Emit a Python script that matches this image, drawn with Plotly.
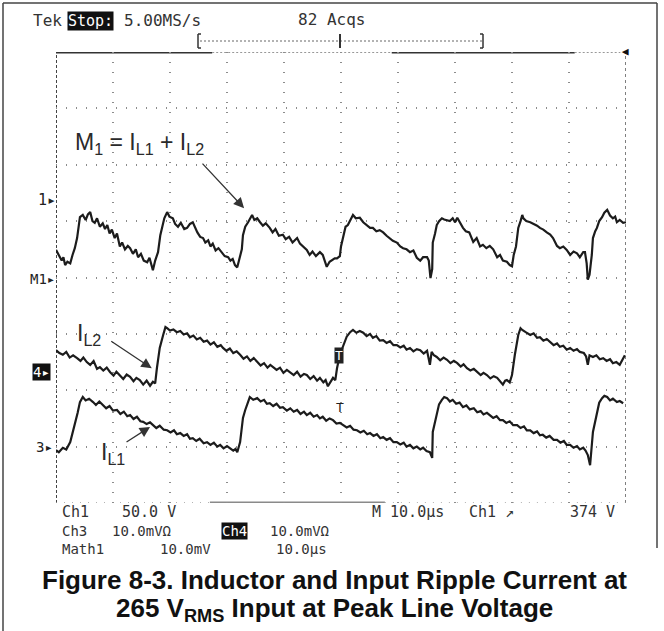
import plotly.graph_objects as go

# ---------------- data (time in µs, 10 µs/div; value in screen divisions) ----------------
m1_samples = [
    (0.0, 4.49), (0.5, 4.40), (1.0, 4.30), (1.3, 4.36), (1.6, 4.22), (2.0, 4.28), (2.5, 4.25), (2.9, 4.40),
    (3.3, 4.52), (3.7, 4.70), (4.2, 5.07), (4.7, 5.11), (5.2, 5.02), (5.6, 5.12), (6.0, 5.16), (6.4, 5.00),
    (6.8, 4.97), (7.2, 5.05), (7.7, 4.90), (8.2, 4.96), (8.6, 4.86), (9.0, 4.93), (9.4, 4.78), (9.8, 4.85),
    (10.3, 4.70), (10.7, 4.78), (11.2, 4.55), (11.6, 4.62), (12.1, 4.50), (12.6, 4.56), (13.0, 4.52),
    (13.5, 4.42), (14.0, 4.50), (14.4, 4.36), (14.9, 4.42), (15.4, 4.30), (16.0, 4.27), (16.4, 4.35),
    (16.8, 4.20), (17.0, 4.13), (17.4, 4.30), (17.9, 4.45), (18.3, 4.75), (18.6, 4.88), (19.0, 5.05),
    (19.5, 5.16), (19.9, 5.08), (20.5, 5.05), (20.9, 4.95), (21.4, 4.90), (21.9, 4.97), (22.5, 4.86),
    (23.0, 4.88), (23.5, 4.95), (24.0, 4.98), (24.8, 4.80), (25.3, 4.72), (25.8, 4.70), (26.2, 4.62),
    (26.7, 4.66), (27.1, 4.55), (27.5, 4.60), (28.0, 4.48), (28.5, 4.52), (29.1, 4.45), (29.6, 4.38),
    (30.2, 4.36), (30.6, 4.30), (31.0, 4.33), (31.4, 4.22), (31.8, 4.18), (32.2, 4.35), (32.6, 4.50),
    (32.8, 4.75), (33.2, 4.90), (33.7, 4.98), (34.0, 5.05), (34.4, 5.11), (34.8, 5.02), (35.3, 5.05),
    (35.8, 4.98), (36.3, 4.92), (36.8, 4.96), (37.5, 4.88), (38.0, 4.80), (38.5, 4.86), (39.1, 4.74),
    (39.8, 4.76), (40.3, 4.68), (40.9, 4.72), (41.5, 4.62), (42.3, 4.70), (42.8, 4.60), (43.4, 4.55),
    (44.0, 4.49), (44.5, 4.40), (45.0, 4.46), (45.6, 4.38), (46.3, 4.45), (46.8, 4.40), (47.2, 4.30),
    (47.5, 4.19), (48.0, 4.28), (48.4, 4.31), (48.9, 4.34), (49.3, 4.34), (49.8, 4.38), (50.0, 4.55),
    (50.4, 4.75), (50.8, 4.90), (51.2, 4.93), (51.6, 5.02), (52.1, 5.11), (52.6, 5.05), (53.3, 5.06),
    (53.9, 4.98), (54.6, 4.93), (55.1, 4.88), (55.6, 4.88), (56.2, 4.82), (56.8, 4.84), (57.4, 4.80),
    (58.0, 4.74), (58.5, 4.70), (59.1, 4.65), (59.8, 4.62), (60.4, 4.55), (60.9, 4.52), (61.5, 4.50),
    (62.1, 4.45), (62.7, 4.48), (63.3, 4.35), (63.9, 4.30), (64.4, 4.36), (65.1, 4.36), (65.4, 4.30),
    (65.7, 3.99), (66.0, 4.15), (66.1, 4.62), (66.5, 4.78), (66.8, 4.93), (67.2, 5.00), (67.7, 5.05),
    (68.1, 5.03), (68.6, 5.02), (69.1, 5.00), (69.6, 5.05), (70.0, 4.98), (70.4, 5.06), (71.0, 4.95),
    (71.4, 4.88), (71.9, 4.82), (72.5, 4.80), (73.2, 4.63), (73.8, 4.70), (74.4, 4.55), (74.9, 4.58),
    (75.5, 4.52), (76.1, 4.56), (76.7, 4.50), (77.4, 4.36), (77.9, 4.40), (78.4, 4.30), (79.1, 4.28),
    (79.6, 4.22), (80.0, 4.20), (80.3, 4.40), (80.7, 4.55), (81.1, 4.88), (81.5, 5.00), (81.8, 5.11),
    (82.0, 5.05), (82.5, 5.00), (83.2, 4.98), (83.8, 4.95), (84.4, 4.92), (84.9, 4.88), (85.5, 4.85),
    (86.1, 4.80), (86.7, 4.76), (87.2, 4.70), (87.9, 4.56), (88.4, 4.52), (89.0, 4.55), (89.6, 4.49),
    (90.2, 4.40), (90.8, 4.46), (91.4, 4.43), (91.9, 4.36), (92.5, 4.45), (92.8, 4.45), (93.1, 4.25),
    (93.3, 3.96), (93.6, 4.05), (94.0, 4.40), (94.2, 4.70), (94.6, 4.82), (94.9, 4.88), (95.3, 5.00),
    (95.8, 5.07), (96.2, 5.15), (96.7, 5.20), (97.2, 5.10), (97.7, 5.05), (98.1, 5.08), (98.4, 4.98),
    (98.9, 5.02), (99.5, 4.97), (100.0, 4.98),
]
il2_samples = [
    (0.0, 2.71), (0.6, 2.66), (1.2, 2.63), (1.8, 2.68), (2.4, 2.58), (3.0, 2.62), (3.7, 2.57), (4.3, 2.52),
    (4.8, 2.58), (5.4, 2.50), (6.0, 2.45), (6.6, 2.52), (7.2, 2.38), (7.7, 2.41), (8.3, 2.35), (8.9, 2.40),
    (9.5, 2.32), (10.1, 2.26), (10.6, 2.33), (11.2, 2.27), (11.8, 2.20), (12.4, 2.28), (13.0, 2.24),
    (13.6, 2.16), (14.1, 2.22), (14.7, 2.18), (15.3, 2.10), (15.9, 2.17), (16.5, 2.08), (17.0, 2.15),
    (17.4, 2.12), (17.7, 2.39), (18.2, 2.75), (18.8, 2.98), (19.2, 3.12), (19.5, 3.10), (20.0, 3.06),
    (20.6, 3.08), (21.2, 3.03), (21.8, 3.05), (22.4, 2.99), (23.0, 3.01), (23.5, 2.94), (24.1, 2.97),
    (24.7, 2.90), (25.3, 2.93), (25.9, 2.86), (26.5, 2.88), (27.1, 2.81), (27.7, 2.85), (28.3, 2.77),
    (28.9, 2.80), (29.3, 2.75), (29.9, 2.70), (30.5, 2.74), (31.1, 2.66), (31.7, 2.69), (32.3, 2.63),
    (32.9, 2.56), (33.5, 2.60), (34.1, 2.52), (34.7, 2.57), (35.3, 2.50), (35.9, 2.44), (36.5, 2.48),
    (37.1, 2.40), (37.6, 2.45), (38.1, 2.41), (38.7, 2.36), (39.3, 2.40), (39.9, 2.31), (40.5, 2.36),
    (41.1, 2.32), (41.7, 2.27), (42.3, 2.33), (42.9, 2.24), (43.5, 2.29), (44.0, 2.27), (44.6, 2.20),
    (45.2, 2.25), (45.8, 2.17), (46.3, 2.22), (46.9, 2.14), (47.3, 2.18), (47.7, 2.07), (48.1, 2.14),
    (48.6, 2.22), (49.0, 2.18), (49.3, 2.39), (49.8, 2.63), (50.4, 2.80), (51.0, 2.95), (51.6, 3.03),
    (52.1, 3.07), (52.7, 3.02), (53.3, 3.05), (53.9, 3.02), (54.5, 2.96), (55.1, 3.00), (55.6, 2.93),
    (56.2, 2.96), (56.8, 2.88), (57.4, 2.89), (58.0, 2.84), (58.6, 2.87), (59.2, 2.80), (59.8, 2.80),
    (60.4, 2.76), (61.0, 2.79), (61.5, 2.72), (62.1, 2.75), (62.7, 2.69), (63.3, 2.73), (63.9, 2.71),
    (64.5, 2.65), (65.1, 2.70), (65.6, 2.45), (65.9, 2.68), (66.3, 2.62), (66.8, 2.59), (67.4, 2.53),
    (68.0, 2.58), (68.6, 2.54), (69.2, 2.48), (69.8, 2.52), (70.4, 2.48), (71.0, 2.42), (71.5, 2.46),
    (72.1, 2.39), (72.7, 2.35), (73.3, 2.38), (73.9, 2.32), (74.5, 2.27), (75.0, 2.31), (75.6, 2.27),
    (76.2, 2.21), (76.8, 2.25), (77.4, 2.22), (77.9, 2.16), (78.4, 2.10), (78.8, 2.17), (79.1, 2.18),
    (79.6, 2.14), (80.0, 2.27), (80.5, 2.63), (81.1, 2.98), (81.5, 3.10), (81.8, 3.07), (82.4, 3.03),
    (83.2, 2.98), (83.8, 3.01), (84.4, 2.93), (84.9, 2.94), (85.5, 2.88), (86.1, 2.91), (86.7, 2.86),
    (87.3, 2.80), (87.9, 2.83), (88.4, 2.77), (89.0, 2.79), (89.6, 2.72), (90.2, 2.75), (90.8, 2.70),
    (91.4, 2.73), (91.9, 2.68), (92.6, 2.66), (93.0, 2.60), (93.3, 2.45), (93.6, 2.62), (94.2, 2.59),
    (94.8, 2.62), (95.4, 2.55), (96.0, 2.57), (96.6, 2.52), (97.2, 2.55), (97.7, 2.48), (98.3, 2.50),
    (98.9, 2.45), (99.5, 2.57), (99.8, 2.62),
]
il1_samples = [
    (0.0, 0.94), (0.5, 0.90), (1.2, 0.98), (1.8, 0.95), (2.5, 1.08), (3.3, 1.38), (3.8, 1.60), (4.2, 1.79),
    (4.7, 1.88), (5.2, 1.82), (5.8, 1.85), (6.5, 1.79), (7.0, 1.74), (7.6, 1.80), (8.2, 1.74), (8.8, 1.68),
    (9.4, 1.72), (10.0, 1.64), (10.7, 1.65), (11.3, 1.58), (11.9, 1.62), (12.5, 1.54), (13.0, 1.56),
    (13.6, 1.49), (14.2, 1.53), (14.8, 1.45), (15.3, 1.44), (15.9, 1.40), (16.5, 1.43), (17.0, 1.38),
    (17.6, 1.33), (18.2, 1.37), (18.9, 1.30), (19.5, 1.29), (20.1, 1.25), (20.7, 1.29), (21.2, 1.22),
    (21.8, 1.24), (22.4, 1.19), (23.0, 1.22), (23.5, 1.14), (24.0, 1.15), (24.6, 1.10), (25.2, 1.14),
    (25.9, 1.06), (26.5, 1.08), (27.1, 1.03), (27.7, 1.07), (28.3, 1.00), (28.8, 1.03), (29.4, 0.97),
    (30.0, 1.01), (30.5, 0.98), (31.1, 0.93), (31.5, 0.96), (31.8, 0.90), (32.3, 1.08), (32.8, 1.51),
    (33.2, 1.65), (33.5, 1.74), (34.0, 1.88), (34.6, 1.83), (35.3, 1.86), (35.9, 1.80), (36.5, 1.83),
    (37.0, 1.76), (37.5, 1.77), (38.1, 1.72), (38.7, 1.76), (39.3, 1.69), (39.8, 1.70), (40.5, 1.64),
    (41.1, 1.68), (41.7, 1.62), (42.3, 1.65), (42.9, 1.58), (43.5, 1.62), (44.0, 1.56), (44.6, 1.60),
    (45.2, 1.53), (45.8, 1.56), (46.3, 1.50), (46.8, 1.53), (47.4, 1.46), (48.0, 1.50), (48.6, 1.47),
    (49.2, 1.41), (49.8, 1.42), (50.4, 1.38), (51.0, 1.34), (51.6, 1.37), (52.2, 1.30), (52.8, 1.29),
    (53.4, 1.25), (54.0, 1.28), (54.6, 1.22), (55.1, 1.24), (55.7, 1.19), (56.3, 1.22), (56.9, 1.15),
    (57.4, 1.17), (58.0, 1.12), (58.6, 1.15), (59.2, 1.08), (59.8, 1.08), (60.4, 1.04), (61.0, 1.07),
    (61.5, 1.00), (62.1, 1.03), (62.7, 0.97), (63.3, 1.00), (63.9, 0.95), (64.4, 0.98), (65.0, 0.92),
    (65.6, 0.90), (66.0, 0.80), (66.1, 1.26), (66.8, 1.61), (67.2, 1.75), (67.7, 1.83), (68.1, 1.88),
    (68.6, 1.86), (69.1, 1.80), (69.6, 1.83), (70.2, 1.76), (70.8, 1.78), (71.4, 1.70), (72.0, 1.73),
    (72.6, 1.66), (73.3, 1.68), (73.9, 1.61), (74.5, 1.63), (75.0, 1.57), (75.6, 1.60), (76.1, 1.56),
    (76.7, 1.51), (77.3, 1.54), (77.9, 1.47), (78.4, 1.47), (79.0, 1.42), (79.6, 1.45), (80.2, 1.38),
    (80.9, 1.38), (81.5, 1.33), (82.1, 1.36), (82.6, 1.29), (83.2, 1.29), (83.8, 1.24), (84.4, 1.27),
    (84.9, 1.20), (85.4, 1.21), (86.0, 1.16), (86.6, 1.19), (87.3, 1.12), (87.9, 1.12), (88.5, 1.07),
    (89.1, 1.10), (89.6, 1.03), (90.2, 1.03), (90.8, 0.98), (91.4, 1.01), (91.9, 0.95), (92.5, 0.98),
    (92.9, 0.93), (93.3, 0.85), (93.7, 0.67), (94.2, 1.26), (94.9, 1.61), (95.3, 1.78), (95.8, 1.86),
    (96.2, 1.90), (96.7, 1.88), (97.2, 1.82), (97.7, 1.85), (98.4, 1.79), (98.9, 1.81), (99.5, 1.77),
]
m1_time = [p[0] for p in m1_samples]
m1_value = [p[1] for p in m1_samples]
il2_time = [p[0] for p in il2_samples]
il2_value = [p[1] for p in il2_samples]
il1_time = [p[0] for p in il1_samples]
il1_value = [p[1] for p in il1_samples]

time_divisions = list(range(0, 101, 10))   # 10.0 µs/div
volt_divisions = list(range(0, 9))

# text content
top_status = ["Tek", "Stop:", "5.00MS/s", "82 Acqs"]
row1 = ["Ch1", "50.0 V", "M 10.0µs", "Ch1 ↗", "374 V"]
row2 = ["Ch3", "10.0mVΩ", "Ch4", "10.0mVΩ"]
row3 = ["Math1", "10.0mV", "10.0µs"]
caption1 = "Figure 8-3. Inductor and Input Ripple Current at"
caption2 = "265 V<sub>RMS</sub> Input at Peak Line Voltage"

# ---------------- layout helpers ----------------
W, H = 664, 631
def px(x):
    return x / W
def py(y):
    return 1 - y / H

X0, X1, Y0, Y1 = 56, 626, 52, 503
TRACE = "#1c1c1c"
MONO = "DejaVu Sans Mono"
SANS = "Liberation Sans"

fig = go.Figure()
for tt, vv in [(m1_time, m1_value), (il2_time, il2_value), (il1_time, il1_value)]:
    fig.add_trace(go.Scatter(x=tt, y=vv, mode="lines",
                             line=dict(color=TRACE, width=2.2),
                             hoverinfo="skip", showlegend=False))

shapes = []
def seg(x0, y0, x1, y1, color="#333", width=2, dash="solid", ref="xy"):
    xr, yr = ("x", "y") if ref == "xy" else ("paper", "paper")
    shapes.append(dict(type="line", xref=xr, yref=yr, x0=x0, y0=y0, x1=x1, y1=y1,
                       line=dict(color=color, width=width, dash=dash), layer="below"))

# graticule frame
seg(0, 0, 0, 8, "#444", 2, "3px,2px")
seg(100, 0, 100, 8, "#555", 1.5, "3px,3px")
seg(0, 8, 27.4, 8, "#333", 3)
seg(27.4, 8, 58.9, 8, "#777", 1.5, "2px,2px")
seg(58.9, 8, 91.0, 8, "#333", 3)
seg(91.0, 8, 99.0, 8, "#777", 1.5, "2px,2px")
seg(0, 0, 27.0, 0, "#999", 1.5, "1px,7px")
seg(27.0, 0, 57.7, 0, "#8a8a8a", 3)
seg(57.7, 0, 100, 0, "#999", 1.5, "1px,7px")
# record bracket
seg(px(200), py(41), px(482), py(41), "#666", 1, "2px,2px", ref="paper")
seg(px(198), py(34), px(198), py(48), "#333", 1.5, ref="paper")
seg(px(483), py(34), px(483), py(48), "#333", 1.5, ref="paper")
seg(px(198), py(34), px(201), py(34), "#333", 1.5, ref="paper")
seg(px(198), py(48), px(201), py(48), "#333", 1.5, ref="paper")
seg(px(480), py(34), px(483), py(34), "#333", 1.5, ref="paper")
seg(px(480), py(48), px(483), py(48), "#333", 1.5, ref="paper")
seg(px(340), py(34), px(340), py(48), "#333", 2, ref="paper")
# page border
seg(px(3), py(3), px(657), py(3), "#444", 1.5, ref="paper")
seg(px(3), py(3), px(3), py(631), "#444", 1.5, ref="paper")
seg(px(657), py(3), px(657), py(548), "#444", 1.5, ref="paper")

ann = []
def txt(x, y, s, size=16, family=MONO, color="#333", xanchor="left", bg=None, fcolor=None):
    d = dict(x=px(x), y=py(y), xref="paper", yref="paper", text=s, showarrow=False,
             xanchor=xanchor, yanchor="middle",
             font=dict(family=family, size=size, color=fcolor or color))
    if bg:
        d.update(bgcolor=bg, borderpad=0)
    ann.append(d)

# top status line
txt(31, 21, top_status[0], 16)
txt(67, 21, top_status[1], 15, bg="#111", fcolor="white")
txt(122, 21, top_status[2], 16)
txt(296, 20, top_status[3], 16)
txt(625, 51, "◀", 11, xanchor="center", color="#111")

# channel markers on the left
txt(36, 200, "1▸", 15, color="#222")
txt(28, 279, "M1▸", 14, color="#222")
txt(32, 372, "4▸", 14, bg="#111", fcolor="white")
txt(34, 447, "3▸", 14, color="#222")
# trigger markers on traces
txt(339, 355, "T", 13, xanchor="center", bg="#222", fcolor="white")
txt(340, 407, "T", 13, xanchor="center", color="#222")

# bottom readouts
txt(60, 512, row1[0], 15)
txt(120, 512, row1[1], 15)
txt(370, 512, row1[2], 15)
txt(467, 512, row1[3], 15)
txt(568, 512, row1[4], 15)
txt(60, 531, row2[0], 14)
txt(110, 531, row2[1], 14)
txt(221, 531, row2[2], 14, bg="#111", fcolor="white")
txt(268, 531, row2[3], 14)
txt(60, 549, row3[0], 14)
txt(158, 549, row3[1], 14)
txt(274, 549, row3[2], 14)

# waveform labels
txt(139, 143, "M<sub>1</sub> = I<sub>L1</sub> + I<sub>L2</sub>", 23, SANS, "#2a2a2a", "center")
txt(89, 334, "I<sub>L2</sub>", 23, SANS, "#2a2a2a", "center")
txt(113, 453, "I<sub>L1</sub>", 23, SANS, "#2a2a2a", "center")

# arrows
for hx, hy, ax, ay in [(33.0, 5.23, -43, -46), (16.8, 2.39, -42, -28), (16.5, 1.35, -25, 16)]:
    ann.append(dict(x=hx, y=hy, xref="x", yref="y", ax=ax, ay=ay, text="", showarrow=True,
                    arrowhead=2, arrowsize=1.6, arrowwidth=1.3, arrowcolor="#333"))

# caption
txt(334, 580, "<b>" + caption1 + "</b>", 26, SANS, "#111", "center")
txt(334, 609, "<b>" + caption2 + "</b>", 26, SANS, "#111", "center")

fig.update_layout(
    width=W, height=H, margin=dict(l=0, r=0, t=0, b=0),
    paper_bgcolor="white", plot_bgcolor="white",
    shapes=shapes, annotations=ann, showlegend=False,
    xaxis=dict(domain=[px(X0), px(X1)], range=[0, 100], tickvals=time_divisions,
               showticklabels=False, ticks="", showgrid=True, gridcolor="#8c8c8c",
               griddash="1px,9px", gridwidth=1.5, zeroline=False, showline=False, fixedrange=True),
    yaxis=dict(domain=[py(Y1), py(Y0)], range=[0, 8], tickvals=volt_divisions,
               showticklabels=False, ticks="", showgrid=True, gridcolor="#8c8c8c",
               griddash="1px,9px", gridwidth=1.5, zeroline=False, showline=False, fixedrange=True),
)

fig.write_html("out.html", config={"displayModeBar": False},
               post_script="document.body.style.margin='0';document.body.style.overflow='hidden';")
